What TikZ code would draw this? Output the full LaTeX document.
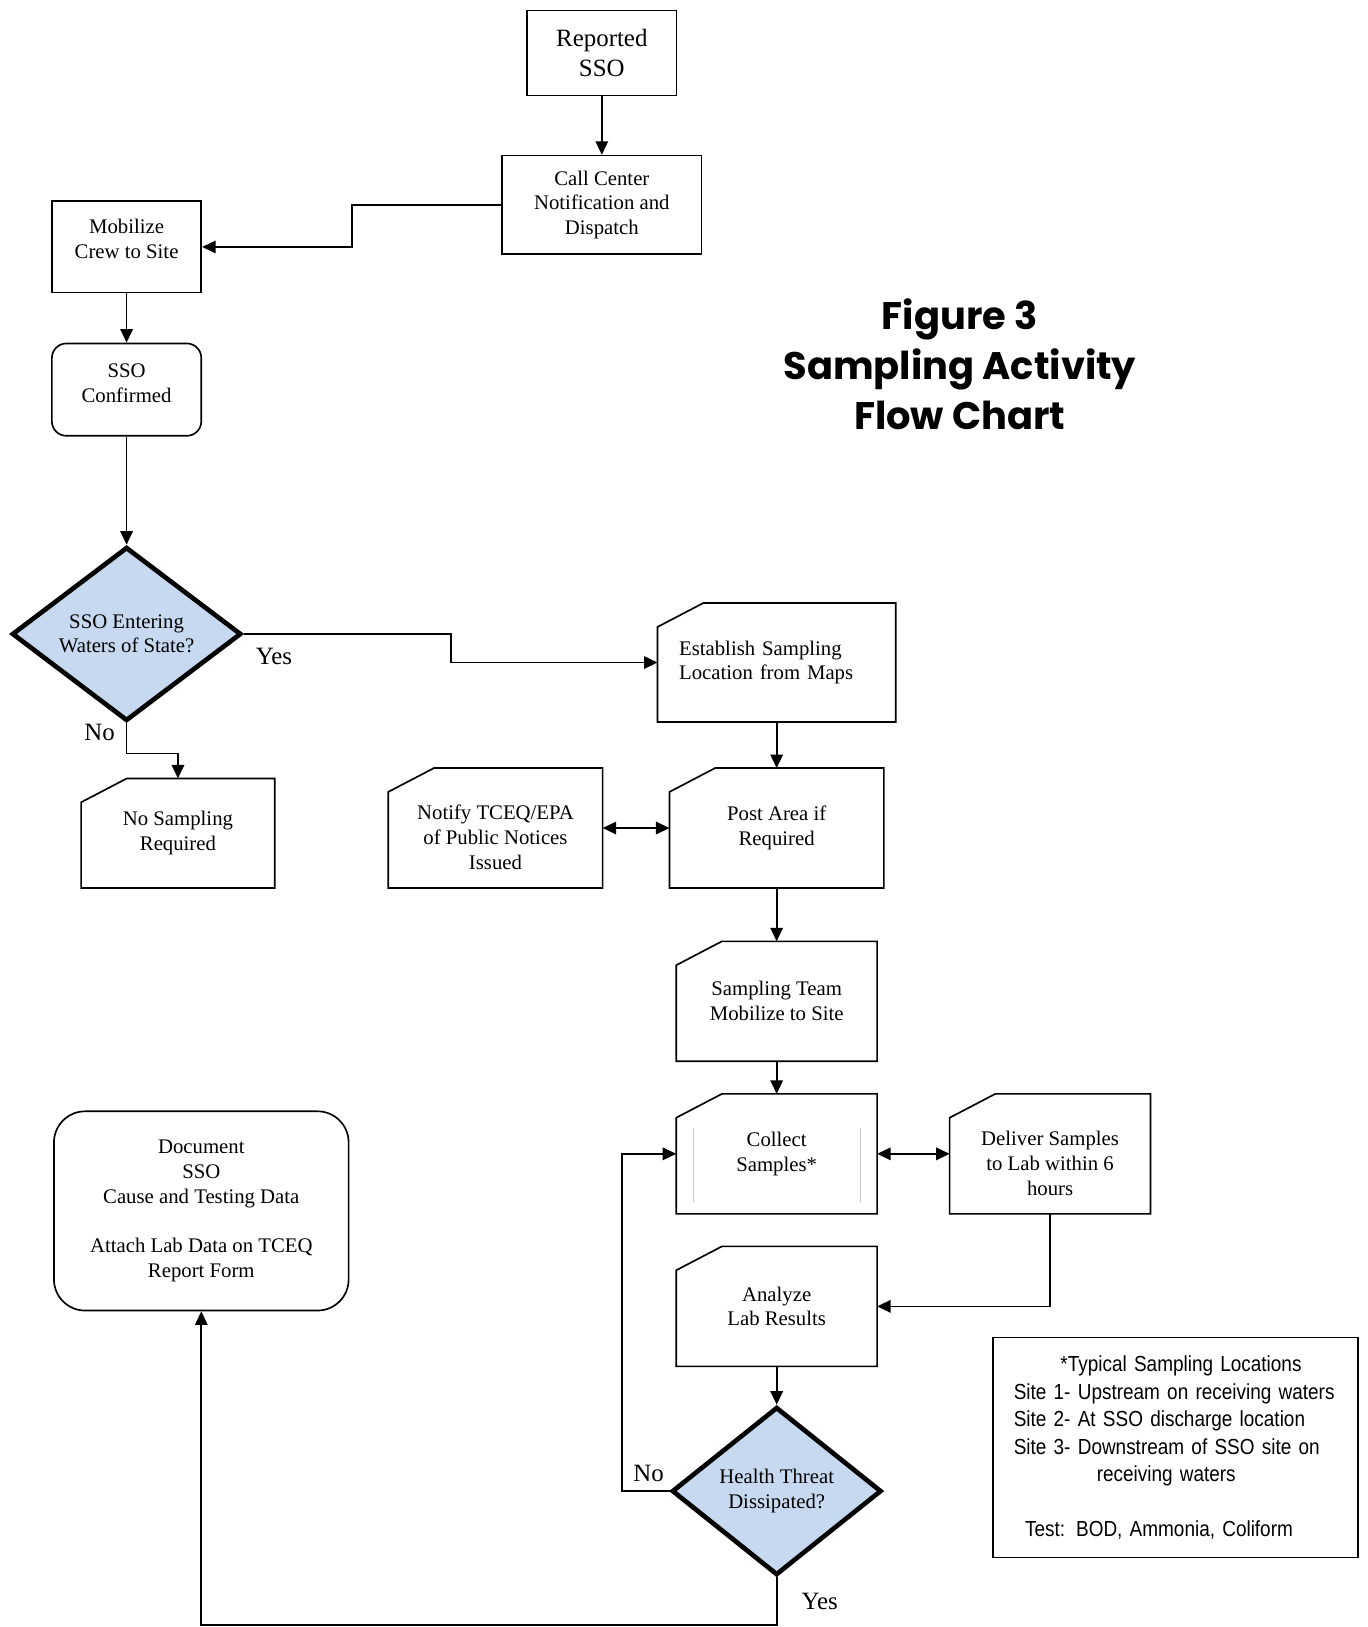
\documentclass[tikz,border=0pt]{standalone}
\usepackage{fontspec}
\setmainfont{Liberation Serif}
\newfontfamily\titlefont{Poppins}
\newfontfamily\notefont[FakeStretch=0.87]{Liberation Sans}
\usetikzlibrary{shapes.geometric,arrows.meta,calc}
\definecolor{askblue}{RGB}{198,217,241}
\begin{document}
\begin{tikzpicture}[x=1pt,y=-1pt,color=black,every path/.append style={line width=1.6pt},
  box/.style={draw,rectangle,align=center,font=\fontsize{20}{24}\selectfont},
  card/.style={rectangle,align=center,font=\fontsize{20}{24}\selectfont},
  ask/.style={draw,diamond,fill=askblue,line width=4.5pt,inner sep=0pt,align=center,font=\fontsize{20}{23.5}\selectfont},
  lbl/.style={inner sep=0pt,font=\fontsize{24}{28}\selectfont},
  arr/.style={-{Triangle[length=13pt,width=12pt]}},
  darr/.style={{Triangle[length=13pt,width=12pt]}-{Triangle[length=13pt,width=12pt]}}]
\useasboundingbox (0,0) rectangle (1318,1568);

\node(RS) [box,minimum width=144pt,minimum height=82pt,font=\fontsize{24}{29}\selectfont] at (580,51) {Reported\\SSO};
\node(CC) [box,minimum width=192pt,minimum height=95pt] at (580,197.5) {Call Center\\Notification and\\Dispatch};
\node(MC) [box,minimum width=144pt,minimum height=88pt] at (122,238) {Mobilize\\Crew to Site\\[-8pt]\mbox{}};
\node(SC) [box,rounded corners=14pt,minimum width=144pt,minimum height=89pt] at (122,375.5) {SSO\\Confirmed\\[-12pt]\mbox{}};
\node(SE) [ask,minimum width=221pt,minimum height=159pt] at (122,611) {SSO Entering\\Waters of State?};
\node(ES) [card,minimum width=228pt,minimum height=113pt,text width=188pt,align=left] at (748.5,638.5) {Establish Sampling\\Location from Maps};
\node(NT) [card,minimum width=205pt,minimum height=114pt] at (477.5,798) {\mbox{}\\[8pt]Notify TCEQ/EPA\\of Public Notices\\Issued};
\node(PA) [card,minimum width=205pt,minimum height=114pt] at (748.5,798) {Post Area if\\Required};
\node(NS) [card,minimum width=185pt,minimum height=104pt] at (171.5,803) {No Sampling\\Required};
\node(ST) [card,minimum width=192pt,minimum height=114pt] at (748.5,965) {Sampling Team\\Mobilize to Site};
\node(CS) [card,minimum width=192pt,minimum height=114pt] at (748.5,1112) {Collect\\Samples*};
\node(DS) [card,minimum width=192pt,minimum height=114pt] at (1012,1112) {\mbox{}\\[8pt]Deliver Samples\\to Lab within 6\\hours};
\node(AL) [card,minimum width=192pt,minimum height=114pt] at (748.5,1259) {Analyze\\Lab Results};
\node(HT) [ask,minimum width=202pt,minimum height=162pt] at (748.5,1437) {Health Threat\\Dissipated?};
\node(DO) [box,rounded corners=30pt,minimum width=284pt,minimum height=192pt] at (194,1167) {Document\\SSO\\Cause and Testing Data\\[23.5pt]Attach Lab Data on TCEQ\\Report Form};
\node(LG) [draw,rectangle,minimum width=352pt,minimum height=212pt,text width=312pt,align=left,font=\notefont\fontsize{21}{26.5}\selectfont] at (1133,1395) {\hspace*{45pt}*Typical Sampling Locations\\Site 1- Upstream on receiving waters\\Site 2- At SSO discharge location\\Site 3- Downstream of SSO site on\\\hspace*{80pt}receiving waters\\[26pt]\hspace*{11pt}Test: BOD, Ammonia, Coliform};
\node(TT) [align=center,font=\titlefont\bfseries\fontsize{37}{48}\selectfont] at (925,351) {Figure 3\\Sampling Activity\\Flow Chart};

\node(Y1) [lbl] at (264,633) {Yes};
\node(N1) [lbl] at (96,706) {No};
\node(N2) [lbl] at (625,1420) {No};
\node(Y2) [lbl] at (790,1543) {Yes};

\foreach \n in {ES,NT,PA,NS,ST,CS,DS,AL}
  \draw (\n.south west) -- ($(\n.north west)+(0,23)$) -- ($(\n.north west)+(44,0)$) -- (\n.north east) -- (\n.south east) -- cycle;
\draw[gray!45,line width=1pt] ($(CS.center)+(-80,-25)$) -- ++(0,71);
\draw[gray!45,line width=1pt] ($(CS.center)+(81,-25)$) -- ++(0,71);

\draw[arr] (RS) -- (CC);
\draw[arr] (CC.west) -- ++(-144,0) |- (MC.east);
\draw[arr] (MC) -- (SC);
\draw[arr] (SC) -- (SE);
\draw[arr] (SE.east) -- ++(200,0) |- (ES.west);
\draw[arr] (SE.south) -- ++(0,29) -| (NS.north);
\draw[arr] (ES) -- (PA);
\draw[darr] (NT) -- (PA);
\draw[arr] (PA) -- (ST);
\draw[arr] (ST) -- (CS);
\draw[darr] (CS) -- (DS);
\draw[arr] (DS.south) |- (AL.east);
\draw[arr] (AL) -- (HT);
\draw[arr] (HT.west) -- ++(-46,0) |- (CS.west);
\draw[arr] (HT.south) -- ++(0,46) -| (DO.south);
\end{tikzpicture}
\end{document}
